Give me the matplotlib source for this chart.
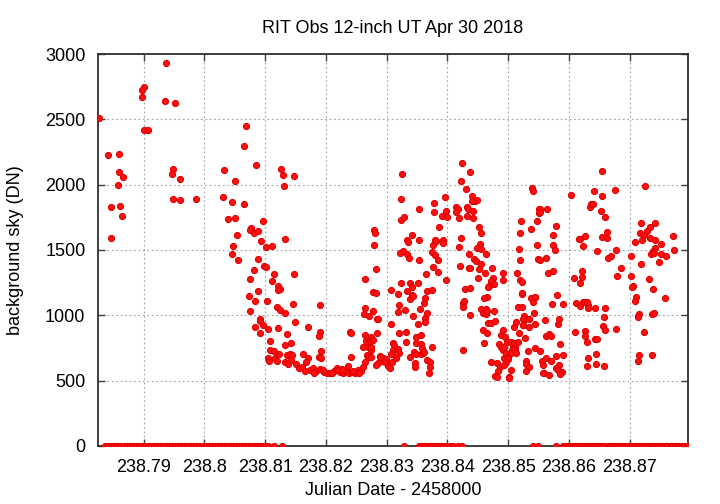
import matplotlib
matplotlib.use("Agg")
import matplotlib.pyplot as plt
import numpy as np

plt.rcParams['font.family'] = ['Liberation Sans', 'DejaVu Sans']

title = "RIT Obs 12-inch UT Apr 30 2018"
xlabel = "Julian Date - 2458000"
ylabel = "background sky (DN)"

xticks = [238.79, 238.80, 238.81, 238.82, 238.83, 238.84, 238.85, 238.86, 238.87]
xticklabels = ["238.79", "238.8", "238.81", "238.82", "238.83", "238.84", "238.85", "238.86", "238.87"]
yticks = [0, 500, 1000, 1500, 2000, 2500, 3000]

# early part of the night (bright sky / twilight)
jd_early = [238.7937, 238.7900, 238.7897, 238.7898, 238.7935, 238.7952, 238.7826, 238.7901, 238.7908,
            238.7842, 238.7860, 238.7859, 238.7866, 238.7858, 238.7846, 238.7861, 238.7865, 238.7846,
            238.7949, 238.7947, 238.7960, 238.7948, 238.7960, 238.7987, 238.8068, 238.8065, 238.8085,
            238.8032, 238.8051, 238.8126, 238.8130, 238.8147, 238.8131, 238.8031, 238.8045, 238.8066,
            238.8039, 238.8050, 238.8097, 238.8077, 238.8075, 238.8081, 238.8089, 238.8053, 238.8093,
            238.8101, 238.8111, 238.8132, 238.8047, 238.8046, 238.8056, 238.8088]
sky_early = [2933, 2750, 2724, 2669, 2643, 2625, 2510, 2418, 2418,
             2227, 2235, 2095, 2061, 1995, 1829, 1837, 1758, 1590,
             2118, 2082, 2046, 1888, 1885, 1888, 2451, 2298, 2148,
             2112, 2026, 2122, 2072, 2069, 1990, 1903, 1870, 1850,
             1735, 1745, 1722, 1671, 1655, 1632, 1648, 1612, 1569,
             1523, 1528, 1584, 1528, 1472, 1426, 1433]

# descent towards the dark-sky floor
jd_fall = [238.8082, 238.8098, 238.8102, 238.8114, 238.8148, 238.8075, 238.8111, 238.8121, 238.8125,
           238.8122, 238.8074, 238.8089, 238.8084, 238.8103, 238.8146, 238.8190, 238.8120, 238.8124,
           238.8133, 238.8075, 238.8091, 238.8092, 238.8149, 238.8083, 238.8097, 238.8104, 238.8122,
           238.8171, 238.8092, 238.8190, 238.8189, 238.8136, 238.8108, 238.8143, 238.8133, 238.8108,
           238.8114, 238.8192, 238.8104, 238.8107, 238.8116, 238.8119, 238.8123, 238.8136, 238.8141,
           238.8145, 238.8133, 238.8137, 238.8143, 238.8163, 238.8171, 238.8168, 238.8151, 238.8155,
           238.8160, 238.8189, 238.8192]
sky_fall = [1347, 1380, 1368, 1319, 1319, 1278, 1263, 1222, 1202,
            1191, 1150, 1184, 1107, 1107, 1087, 1079, 1064, 1039,
            1018, 1031, 970, 957, 949, 913, 928, 895, 905,
            911, 862, 872, 844, 855, 801, 786, 771, 735,
            729, 729, 671, 653, 671, 653, 704, 696, 702,
            694, 645, 627, 658, 702, 671, 645, 627, 595,
            607, 683, 671]

# flat dark-sky floor
jd_floor = [238.8174, 238.8179, 238.8184, 238.8190, 238.8197, 238.8202, 238.8207, 238.8213, 238.8218,
            238.8223, 238.8228, 238.8233, 238.8238, 238.8243, 238.8248, 238.8253, 238.8258, 238.8261,
            238.8165, 238.8180, 238.8195, 238.8210, 238.8220, 238.8226, 238.8245, 238.8255,
            238.8240, 238.8241, 238.8241, 238.8236]
sky_floor = [582, 597, 574, 589, 566, 559, 559, 574, 597,
             566, 559, 574, 559, 566, 559, 582, 574, 605,
             575, 560, 580, 555, 580, 590, 575, 560,
             875, 862, 683, 612]

# rising, scattered part of the night
jd_mid = [238.8264, 238.8265, 238.8262, 238.8271, 238.8264, 238.8266, 238.8269, 238.8261, 238.8268,
          238.8270, 238.8272, 238.8265, 238.8270, 238.8274,
          238.8280, 238.8281, 238.8279, 238.8282, 238.8278, 238.8283, 238.8277, 238.8284, 238.8286,
          238.8284, 238.8275, 238.8278, 238.8274, 238.8275,
          238.8289, 238.8294, 238.8292, 238.8299, 238.8286, 238.8283, 238.8302, 238.8297, 238.8305,
          238.8289, 238.8309,
          238.8307, 238.8307, 238.8319, 238.8318, 238.8321, 238.8321,
          238.8311, 238.8312, 238.8311, 238.8318, 238.8321, 238.8316, 238.8313, 238.8308,
          238.8323, 238.8322, 238.8327, 238.8324, 238.8325, 238.8324, 238.8329, 238.8330, 238.8332,
          238.8332, 238.8333, 238.8335, 238.8334, 238.8337, 238.8333, 238.8338, 238.8342, 238.8341,
          238.8338, 238.8344, 238.8341, 238.8344, 238.8339, 238.8345, 238.8348, 238.8346, 238.8346,
          238.8349, 238.8349, 238.8357, 238.8352, 238.8351, 238.8353, 238.8354, 238.8353, 238.8355,
          238.8356, 238.8359, 238.8356, 238.8360, 238.8362, 238.8361, 238.8363, 238.8363, 238.8363,
          238.8366, 238.8365, 238.8366, 238.8367, 238.8371, 238.8371, 238.8369, 238.8374, 238.8375,
          238.8374, 238.8377, 238.8380, 238.8376, 238.8378, 238.8378, 238.8380, 238.8382, 238.8385,
          238.8385, 238.8387, 238.8391, 238.8393, 238.8393, 238.8396, 238.8397, 238.8399, 238.8398]
sky_mid = [1280, 1054, 1010, 993, 849, 806, 755, 755, 696,
           824, 804, 645, 679, 735,
           1653, 1632, 1536, 1355, 1176, 1169, 1035, 974, 974,
           862, 836, 811, 760, 683,
           689, 674, 651, 666, 635, 620, 612, 643, 597,
           681, 642,
           936, 1194, 1163, 1023, 1079, 862,
           791, 773, 735, 740, 714, 671, 704, 704,
           1245, 1475, 1492, 1890, 2082, 1732, 1750, 1041, 875,
           793, 1576, 1561, 1469, 1436, 1186, 1245, 1214, 1156,
           1123, 1148, 1615, 995, 683, 722, 704, 633, 602,
           832, 791, 850, 1245, 934, 1816, 1577, 1423, 1051,
           778, 748, 704, 709, 722, 1097, 1130, 977, 947,
           1016, 1318, 1184, 660, 643, 607, 561, 760, 1194,
           1485, 1538, 1464, 1368, 1860, 1789, 1577, 1571, 1421,
           1329, 1678, 1762, 1577, 1556, 1906, 1801, 1755, 1270]

# peak of the scattered sky values
jd_peak = [238.8424, 238.8438, 238.8423, 238.8430, 238.8440, 238.8445, 238.8448, 238.8441, 238.8414,
           238.8418, 238.8415, 238.8433, 238.8434, 238.8442, 238.8419, 238.8432, 238.8442, 238.8452,
           238.8455, 238.8422, 238.8453, 238.8449, 238.8455, 238.8419, 238.8435, 238.8444, 238.8447,
           238.8463, 238.8421, 238.8435, 238.8437, 238.8455, 238.8452, 238.8473, 238.8462, 238.8450,
           238.8475, 238.8471, 238.8477, 238.8468, 238.8467, 238.8491, 238.8491, 238.8429, 238.8437,
           238.8466, 238.8461, 238.8425, 238.8427, 238.8426, 238.8438, 238.8456, 238.8464, 238.8459,
           238.8463, 238.8465, 238.8476, 238.8458, 238.8465, 238.8467, 238.8472, 238.8478, 238.8460,
           238.8426, 238.8488, 238.8492, 238.8485, 238.8489, 238.8491, 238.8493, 238.8471, 238.8482,
           238.8486, 238.8483, 238.8479, 238.8481]
sky_peak = [2168, 2095, 2030, 1969, 1915, 1877, 1883, 1875, 1831,
            1814, 1791, 1831, 1814, 1798, 1745, 1758, 1745, 1674,
            1628, 1589, 1548, 1515, 1510, 1525, 1472, 1429, 1418,
            1472, 1375, 1364, 1360, 1395, 1352, 1360, 1326, 1288,
            1288, 1265, 1240, 1224, 1214, 1326, 1270, 1199, 1211,
            1138, 1130, 1092, 1107, 1066, 1005, 1051, 1051, 1015,
            1012, 1031, 1031, 888, 862, 939, 939, 957, 791,
            735, 852, 888, 781, 760, 735, 671, 645, 633,
            607, 576, 536, 526]

# late part of the night
jd_late = [238.8495, 238.8498, 238.8494, 238.8496, 238.8500, 238.8499, 238.8497, 238.8494, 238.8504,
           238.8501, 238.8502, 238.8505, 238.8508, 238.8512, 238.8511, 238.8507, 238.8505, 238.8513,
           238.8509, 238.8516, 238.8510, 238.8513, 238.8518, 238.8517, 238.8523, 238.8522, 238.8515,
           238.8520, 238.8522, 238.8519, 238.8518, 238.8519, 238.8521, 238.8527, 238.8526, 238.8527,
           238.8524, 238.8539, 238.8541, 238.8538, 238.8547, 238.8551, 238.8553, 238.8550, 238.8552,
           238.8564, 238.8578, 238.8573, 238.8548, 238.8574, 238.8577, 238.8549, 238.8553, 238.8563,
           238.8565, 238.8573, 238.8523, 238.8537, 238.8544, 238.8545, 238.8541, 238.8580, 238.8542,
           238.8572, 238.8591, 238.8526, 238.8524, 238.8535, 238.8561, 238.8584, 238.8582, 238.8525,
           238.8535, 238.8544, 238.8562, 238.8567, 238.8571, 238.8585, 238.8533, 238.8545, 238.8552,
           238.8562, 238.8579, 238.8590, 238.8555, 238.8570, 238.8558, 238.8529, 238.8530, 238.8534,
           238.8530, 238.8559, 238.8557, 238.8568, 238.8583, 238.8579, 238.8582, 238.8588, 238.8586]
sky_late = [836, 794, 760, 709, 683, 663, 645, 620, 582,
            530, 523, 798, 760, 760, 735, 735, 709, 709,
            786, 798, 913, 947, 862, 1066, 1066, 1163, 1326,
            1270, 1257, 1426, 1505, 1628, 1724, 824, 990, 970,
            924, 1977, 1952, 1663, 1724, 1811, 1816, 1785, 1793,
            1811, 1686, 1615, 1536, 1536, 1498, 1429, 1423, 1439,
            1322, 1342, 1169, 1130, 1143, 1138, 1100, 1153, 1015,
            1087, 1084, 995, 970, 972, 967, 970, 934, 924,
            908, 936, 844, 855, 844, 781, 727, 748, 725,
            676, 686, 694, 653, 653, 620, 653, 628, 602,
            574, 556, 561, 543, 620, 595, 582, 564, 549]

jd_end = [238.8603, 238.8641, 238.8654, 238.8676, 238.8654, 238.8634, 238.8637, 238.8639, 238.8653,
          238.8660, 238.8662, 238.8655, 238.8662, 238.8616, 238.8618, 238.8626, 238.8624, 238.8647,
          238.8677, 238.8670, 238.8665, 238.8685, 238.8679, 238.8621, 238.8622, 238.8609, 238.8618,
          238.8611, 238.8618, 238.8624, 238.8627, 238.8631, 238.8632, 238.8630, 238.8643, 238.8660,
          238.8657, 238.8610, 238.8627, 238.8626, 238.8629, 238.8656, 238.8659, 238.8678, 238.8643,
          238.8647, 238.8645, 238.8631, 238.8630, 238.8645, 238.8658,
          238.8726, 238.8718, 238.8741, 238.8734, 238.8728, 238.8717, 238.8724, 238.8708, 238.8720,
          238.8733, 238.8742, 238.8752, 238.8772, 238.8741, 238.8739, 238.8735, 238.8740, 238.8751,
          238.8760, 238.8773, 238.8703, 238.8719, 238.8749, 238.8703, 238.8705, 238.8704, 238.8731,
          238.8738, 238.8710, 238.8709, 238.8758, 238.8714, 238.8716, 238.8713, 238.8736, 238.8740,
          238.8723, 238.8715, 238.8714, 238.8736]
sky_end = [1919, 1954, 1911, 1957, 2102, 1831, 1850, 1852, 1798,
           1755, 1638, 1600, 1592, 1584, 1584, 1609, 1531, 1490,
           1502, 1456, 1436, 1360, 1301, 1342, 1296, 1288, 1250,
           1092, 1069, 1102, 1104, 1079, 1058, 1102, 1056, 1056,
           987, 872, 882, 842, 794, 921, 888, 893, 817,
           817, 704, 676, 612, 627, 610,
           1992, 1704, 1704, 1674, 1645, 1628, 1615, 1561, 1574,
           1589, 1574, 1548, 1609, 1518, 1490, 1467, 1475, 1467,
           1452, 1498, 1456, 1390, 1406, 1301, 1227, 1219, 1278,
           1204, 1143, 1112, 1130, 997, 1008, 987, 1008, 1018,
           872, 699, 653, 696]

# frames with zero background (failed measurements)
jd_zero = [238.7837, 238.7842, 238.7847, 238.7852, 238.7857, 238.7862, 238.7867, 238.7872, 238.7877,
           238.7882, 238.7887, 238.7892, 238.7897, 238.7902, 238.7907, 238.7912, 238.7917, 238.7922,
           238.7927, 238.7932, 238.7937, 238.7942, 238.7947, 238.7952, 238.7957, 238.7962, 238.7967,
           238.7972, 238.7977, 238.7982, 238.7987, 238.7992, 238.7997, 238.8002, 238.8007, 238.8012,
           238.8017, 238.8022, 238.8027, 238.8032, 238.8037, 238.8042, 238.8047, 238.8052, 238.8057,
           238.8062, 238.8067, 238.8072, 238.8077, 238.8082, 238.8087, 238.8092, 238.8097, 238.8101,
           238.8104, 238.8114, 238.8128, 238.8328,
           238.8353, 238.8357, 238.8361, 238.8365, 238.8369, 238.8373, 238.8377, 238.8381, 238.8385,
           238.8389, 238.8393, 238.8397, 238.8404, 238.8410, 238.8417, 238.8424,
           238.8541, 238.8549, 238.8578,
           238.8590, 238.8594, 238.8598, 238.8602, 238.8606, 238.8610, 238.8614, 238.8618, 238.8622,
           238.8626, 238.8629, 238.8634, 238.8638, 238.8642, 238.8646, 238.8650, 238.8654, 238.8657,
           238.8664, 238.8668, 238.8672, 238.8676, 238.8680, 238.8684, 238.8688, 238.8692, 238.8696,
           238.8700, 238.8704, 238.8708, 238.8712, 238.8716, 238.8720, 238.8724, 238.8728, 238.8732,
           238.8736, 238.8739, 238.8742, 238.8746, 238.8750, 238.8754, 238.8758, 238.8762, 238.8766,
           238.8770, 238.8774, 238.8778, 238.8782, 238.8786, 238.8790, 238.8794, 238.8796]
sky_zero = [0] * len(jd_zero)

jd = np.array(jd_early + jd_fall + jd_floor + jd_mid + jd_peak + jd_late + jd_end + jd_zero)
sky = np.array(sky_early + sky_fall + sky_floor + sky_mid + sky_peak + sky_late + sky_end + sky_zero)

fig = plt.figure(figsize=(7.2, 5.04), dpi=100)
ax = fig.add_axes([98/720, 58/504, 590/720, 392/504])

ax.scatter(jd, sky, s=19, facecolor='#ff1010', edgecolor='#e00000', linewidths=0.8, zorder=3, clip_on=True)

ax.set_xlim(238.7825, 238.8796)
ax.set_ylim(0, 3000)
ax.set_xticks(xticks)
ax.set_xticklabels(xticklabels)
ax.set_yticks(yticks)

ax.grid(True, color='#a0a0a0', linestyle=(0, (1.5, 2.5)), linewidth=0.8, zorder=0)
ax.tick_params(direction='in', length=5, width=1, top=True, right=True, labelsize=13, pad=9,
               color='#404040')
for sp in ax.spines.values():
    sp.set_color('#303030')
    sp.set_linewidth(1.3)

ax.set_title(title, fontsize=13, pad=15)
ax.set_xlabel(xlabel, fontsize=13, labelpad=5)
ax.set_ylabel(ylabel, fontsize=13, labelpad=15)

fig.savefig("out.png", dpi=100)
